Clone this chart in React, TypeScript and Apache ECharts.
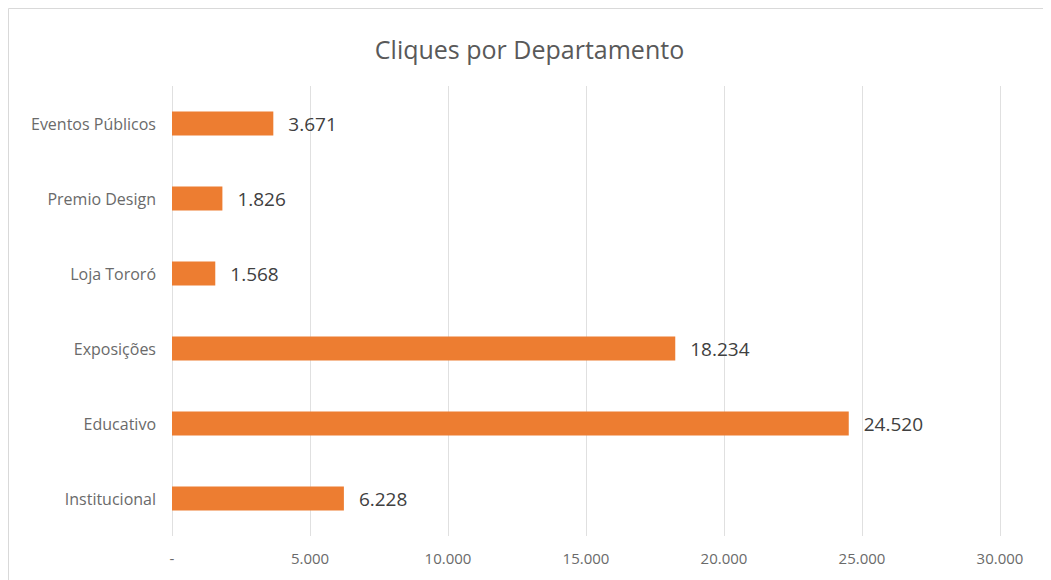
import React, { useEffect, useRef } from "react";
import * as echarts from "echarts";

const categories = ["Institucional", "Educativo", "Exposições", "Loja Tororó", "Premio Design", "Eventos Públicos"];
const values = [6228, 24520, 18234, 1568, 1826, 3671];
const titleText = "Cliques por Departamento";

const fmt = (v: number) => (v === 0 ? "-" : String(v).replace(/\B(?=(\d{3})+(?!\d))/g, "."));

export default function App() {
  const ref = useRef<HTMLDivElement>(null);
  useEffect(() => {
    const chart = echarts.init(ref.current!, null, { renderer: "svg" });
    const font = "'Open Sans', sans-serif";
    chart.setOption({
      animation: false,
      textStyle: { fontFamily: font },
      title: {
        text: titleText,
        left: "center",
        top: 23,
        textStyle: { fontFamily: font, fontSize: 25, fontWeight: "normal", color: "#595959" },
      },
      graphic: [
        {
          type: "rect",
          shape: { x: 0.5, y: 0.5, width: 1200, height: 800 },
          style: { fill: "none", stroke: "#d9d9d9", lineWidth: 1 },
          silent: true,
        },
      ],
      grid: { left: 164, right: 51, top: 78, bottom: 44, containLabel: false },
      xAxis: {
        type: "value",
        min: 0,
        max: 30000,
        interval: 5000,
        axisLine: { show: false },
        axisTick: { show: false },
        splitLine: { show: true, lineStyle: { color: "#e0e0e0", width: 1 } },
        axisLabel: { formatter: fmt, color: "#6a6a6a", fontSize: 15, margin: 14, fontFamily: font },
      },
      yAxis: {
        type: "category",
        data: categories,
        axisLine: { show: false },
        axisTick: { show: false },
        axisLabel: { color: "#6a6a6a", fontSize: 16, margin: 16, fontFamily: font },
      },
      series: [
        {
          type: "bar",
          data: values,
          barWidth: 24,
          itemStyle: { color: "#ED7D31" },
          label: {
            show: true,
            position: "right",
            distance: 15,
            formatter: (p: any) => fmt(p.value),
            color: "#404040",
            fontSize: 19,
            fontFamily: font,
          },
        },
      ],
    });
    return () => chart.dispose();
  }, []);
  return <div ref={ref} style={{ width: 1043, height: 572 }} />;
}
